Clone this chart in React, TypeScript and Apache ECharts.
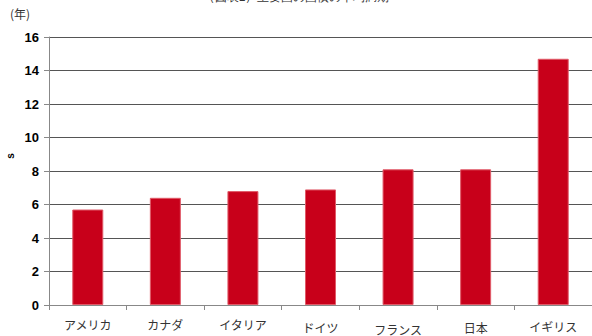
import React, { useEffect, useRef } from "react";
import * as echarts from "echarts";

const categories = ["アメリカ", "カナダ", "イタリア", "ドイツ", "フランス", "日本", "イギリス"];
const values = [5.7, 6.4, 6.8, 6.9, 8.1, 8.1, 14.7];
const labelOffsets = [0, 0, 0, 3, 5, 3, 2];
const titleText = "（図表1）主要国の国債の平均満期";
const unitText = "(年)";

export default function App() {
  const ref = useRef<HTMLDivElement>(null);
  useEffect(() => {
    if (!ref.current) return;
    const chart = echarts.init(ref.current, null, { renderer: "svg" });
    chart.setOption({
      animation: false,
      backgroundColor: "#fff",
      grid: { left: 49, top: 37, width: 550, height: 268, containLabel: false },
      graphic: [
        {
          type: "text",
          left: "center",
          top: -9,
          style: { text: titleText, fontSize: 12, fill: "#333", font: "12px 'Noto Sans CJK JP'" },
        },
        {
          type: "text",
          left: 10,
          top: 7,
          style: { text: unitText, fill: "#333", font: "12px 'Noto Sans CJK JP'" },
        },
        {
          type: "text",
          x: 10,
          y: 156,
          rotation: Math.PI / 2,
          style: { text: "s", fill: "#000", font: "bold 10px 'Liberation Sans'", align: "center", verticalAlign: "middle" },
        },
      ],
      xAxis: {
        type: "category",
        data: categories.map((c, i) => ({ value: c, textStyle: { padding: [labelOffsets[i], 0, 0, 0] } })),
        axisLine: { lineStyle: { color: "#888", width: 1 } },
        axisTick: { show: true, interval: 0, length: 5, lineStyle: { color: "#888" } },
        axisLabel: {
          interval: 0,
          margin: 13,
          fontSize: 12,
          color: "#333",
          fontFamily: "Noto Sans CJK JP",
        },
      },
      yAxis: {
        type: "value",
        min: 0,
        max: 16,
        interval: 2,
        axisLine: { show: true, lineStyle: { color: "#888", width: 1 } },
        axisTick: { show: true, length: 5, lineStyle: { color: "#888" } },
        axisLabel: {
          margin: 10,
          fontSize: 13,
          fontWeight: "bold",
          color: "#000",
          fontFamily: "Liberation Sans",
        },
        splitLine: { show: true, lineStyle: { color: "#555", width: 1 } },
      },
      series: [
        {
          type: "bar",
          data: values,
          barWidth: 31,
          itemStyle: { color: "#c8001a", borderColor: "#e05a68", borderWidth: 1 },
        },
      ],
    });
    return () => chart.dispose();
  }, []);
  return <div ref={ref} style={{ width: 592, height: 336, position: "absolute", left: 0, top: 0 }} />;
}
